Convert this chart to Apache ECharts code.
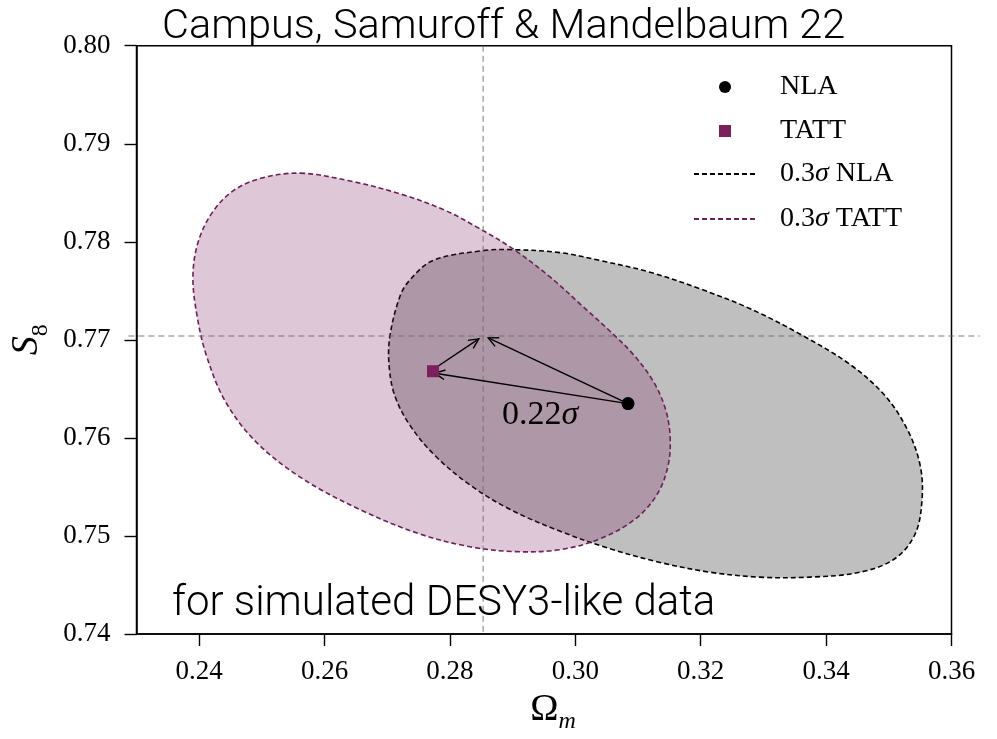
<!DOCTYPE html>
<html><head><meta charset="utf-8">
<script src="https://cdn.jsdelivr.net/npm/echarts@6/dist/echarts.min.js"></script>
<style>html,body{margin:0;padding:0;background:#fff}#c{width:997px;height:739px}</style>
</head><body><div id="c"></div>
<script>
// ---- data ----
const xTicks = [0.24, 0.26, 0.28, 0.30, 0.32, 0.34, 0.36];
const yTicks = [0.74, 0.75, 0.76, 0.77, 0.78, 0.79, 0.80];
const nlaPoint = [[0.3084, 0.7635]];
const tattPoint = [[0.2773, 0.7668]];
const truthOm = 0.2853;
const truthS8 = 0.7704;
const nlaContour = [
  [0.2853,0.7791],[0.2900,0.7792],[0.2975,0.7789],[0.3039,0.7781],[0.3119,0.7769],[0.3199,0.7752],
  [0.3278,0.7732],[0.3358,0.7706],[0.3438,0.7675],[0.3494,0.7643],[0.3530,0.7608],[0.3550,0.7572],
  [0.3553,0.7537],[0.3542,0.7502],[0.3510,0.7477],[0.3454,0.7463],[0.3374,0.7458],[0.3294,0.7458],
  [0.3215,0.7463],[0.3135,0.7473],[0.3055,0.7487],[0.2975,0.7505],[0.2896,0.7527],[0.2832,0.7552],
  [0.2776,0.7582],[0.2736,0.7613],[0.2712,0.7643],[0.2703,0.7673],[0.2704,0.7703],[0.2720,0.7744],
  [0.2736,0.7761],[0.2773,0.7781]
];
const tattContour = [
  [0.2561,0.7870],[0.2641,0.7862],[0.2720,0.7849],[0.2789,0.7833],[0.2843,0.7815],[0.2900,0.7793],
  [0.2960,0.7764],[0.3012,0.7734],[0.3060,0.7706],[0.3094,0.7684],[0.3124,0.7658],[0.3143,0.7631],
  [0.3151,0.7603],[0.3148,0.7572],[0.3130,0.7542],[0.3095,0.7517],[0.3039,0.7497],[0.2975,0.7486],
  [0.2904,0.7484],[0.2832,0.7489],[0.2752,0.7502],[0.2656,0.7527],[0.2561,0.7560],[0.2489,0.7597],
  [0.2441,0.7638],[0.2412,0.7683],[0.2397,0.7723],[0.2390,0.7764],[0.2398,0.7799],[0.2420,0.7829],
  [0.2454,0.7852],[0.2500,0.7865]
];
const arrowFrom = [[0.3084,0.7635],[0.2776,0.7671],[0.3084,0.7635]];
const arrowTo   = [[0.2776,0.7666],[0.2846,0.7701],[0.2861,0.7702]];
const refLineH = [0.2287, truthS8, 0.3645, truthS8];
const refLineV = [truthOm, 0.80, truthOm, 0.74];
const annotation = [[0.2944, 0.7623, '0.22σ']];

// ---- chart ----
const chart = echarts.init(document.getElementById('c'), null, {renderer: 'canvas'});
const serif = 'Liberation Serif';
const fmt2 = v => Number(v).toFixed(2);

function contourSeries(name, pts, fill, stroke) {
  return {
    name: name, type: 'custom', coordinateSystem: 'cartesian2d', data: [[pts[0][0], pts[0][1]]],
    silent: true, z: 2,
    renderItem: function (params, api) {
      const points = pts.map(p => api.coord(p));
      return {type: 'polygon', shape: {points: points, smooth: 0.35},
        style: {fill: fill, stroke: stroke, lineWidth: 1.6, lineDash: [5, 3]}};
    }
  };
}
const legendText = {fontFamily: serif, fontSize: 28, color: '#000',
  rich: {i: {fontFamily: serif, fontStyle: 'italic', fontSize: 28, color: '#000'}}};

const option = {
  backgroundColor: '#fff',
  animation: false,
  title: [
    {text: 'Campus, Samuroff & Mandelbaum 22', left: 157, top: 2,
     textStyle: {fontFamily: 'Roboto', fontWeight: 300, fontSize: 41.5, color: '#000'}},
    {text: 'for simulated DESY3-like data', left: 167, top: 578,
     textStyle: {fontFamily: 'Roboto', fontWeight: 300, fontSize: 42, color: '#000'}}
  ],
  grid: {left: 136.5, right: 45.5, top: 45.7, bottom: 98, show: true,
         borderColor: '#000', borderWidth: 1.5, backgroundColor: 'transparent'},
  legend: [
    {orient: 'vertical', left: 714, top: 68, itemWidth: 12, itemHeight: 12, itemGap: 16,
     data: ['NLA', 'TATT'],
     textStyle: Object.assign({}, legendText, {padding: [0, 0, 0, 44]})},
    {orient: 'vertical', left: 688, top: 155, itemWidth: 63, itemHeight: 12, itemGap: 17,
     data: ['0.3σ NLA', '0.3σ TATT'],
     itemStyle: {opacity: 0},
     formatter: n => n.replace('σ', '{i|σ}'),
     textStyle: Object.assign({}, legendText, {padding: [0, 0, 0, 18]})}
  ],
  xAxis: {
    type: 'value', min: 0.23, max: 0.36,
    name: '{a|Ω}{b|m}', nameLocation: 'middle', nameGap: 52,
    nameTextStyle: {rich: {
      a: {fontFamily: serif, fontSize: 38, color: '#000', padding: [0, 0, 0, 18]},
      b: {fontFamily: serif, fontStyle: 'italic', fontSize: 24, color: '#000', padding: [24, 0, 0, 0]}}},
    axisLine: {show: true, lineStyle: {color: '#000', width: 1.5}},
    axisTick: {show: true, inside: false, length: 12, customValues: xTicks, lineStyle: {color: '#000', width: 1.4}},
    axisLabel: {customValues: xTicks, formatter: fmt2, margin: 24, fontFamily: serif, fontSize: 27, color: '#000'},
    splitLine: {show: false}
  },
  yAxis: {
    type: 'value', min: 0.74, max: 0.80, interval: 0.01,
    name: '{s|S}{n|8}', nameLocation: 'middle', nameGap: 71, nameRotate: 90,
    nameTextStyle: {rich: {
      s: {fontFamily: serif, fontStyle: 'italic', fontSize: 38, color: '#000'},
      n: {fontFamily: serif, fontSize: 24, color: '#000', padding: [26, 0, 0, 0]}}},
    axisLine: {show: true, lineStyle: {color: '#000', width: 1.5}},
    axisTick: {show: true, inside: false, length: 12, customValues: yTicks, lineStyle: {color: '#000', width: 1.4}},
    axisLabel: {customValues: yTicks, formatter: fmt2, margin: 26, fontFamily: serif, fontSize: 27, color: '#000'},
    splitLine: {show: false}
  },
  series: [
    contourSeries('nlaFill', nlaContour, 'rgba(0,0,0,0.25)', '#000'),
    contourSeries('tattFill', tattContour, 'rgba(122,31,92,0.25)', '#6d2058'),
    {
      name: 'ref', type: 'custom', data: [refLineH, refLineV], clip: false, silent: true, z: 3,
      renderItem: function (params, api) {
        const p1 = api.coord([api.value(0), api.value(1)]);
        const p2 = api.coord([api.value(2), api.value(3)]);
        return {type: 'line', shape: {x1: p1[0], y1: p1[1], x2: p2[0], y2: p2[1]},
          style: {stroke: 'rgba(110,110,110,0.6)', lineWidth: 1.5, lineDash: [6, 4]}};
      }
    },
    {
      name: 'arrows', type: 'custom', silent: true, z: 5,
      data: arrowFrom.map((f, i) => [f[0], f[1], arrowTo[i][0], arrowTo[i][1]]),
      renderItem: function (params, api) {
        const p1 = api.coord([api.value(0), api.value(1)]);
        const p2 = api.coord([api.value(2), api.value(3)]);
        const ang = Math.atan2(p2[1] - p1[1], p2[0] - p1[0]);
        const L = 11, A = 0.45;
        const h1 = [p2[0] - L * Math.cos(ang - A), p2[1] - L * Math.sin(ang - A)];
        const h2 = [p2[0] - L * Math.cos(ang + A), p2[1] - L * Math.sin(ang + A)];
        return {type: 'group', children: [
          {type: 'line', shape: {x1: p1[0], y1: p1[1], x2: p2[0], y2: p2[1]}, style: {stroke: '#000', lineWidth: 1.4}},
          {type: 'polyline', shape: {points: [h1, p2, h2]}, style: {stroke: '#000', fill: null, lineWidth: 1.4}}
        ]};
      }
    },
    {
      name: 'annot', type: 'custom', silent: true, z: 6, data: annotation,
      renderItem: function (params, api) {
        const p = api.coord([api.value(0), api.value(1)]);
        const t = annotation[params.dataIndex][2];
        return {type: 'text', x: p[0], y: p[1], style: {
          text: t.replace('σ', '{i|σ}'), align: 'center', verticalAlign: 'middle',
          fontFamily: serif, fontSize: 34, fill: '#000',
          rich: {i: {fontFamily: serif, fontStyle: 'italic', fontSize: 34, fill: '#000'}}}};
      }
    },
    {name: 'NLA', type: 'scatter', data: nlaPoint, symbol: 'circle', symbolSize: 13, z: 7,
     itemStyle: {color: '#000', opacity: 1}},
    {name: 'TATT', type: 'scatter', data: tattPoint, symbol: 'rect', symbolSize: 12, z: 7,
     itemStyle: {color: '#7b1f5d', opacity: 1}},
    {name: '0.3σ NLA', type: 'line', data: [], symbol: 'none',
     lineStyle: {color: '#000', width: 1.5, type: [5, 3]}, itemStyle: {color: '#000'}},
    {name: '0.3σ TATT', type: 'line', data: [], symbol: 'none',
     lineStyle: {color: '#6d2058', width: 1.5, type: [5, 3]}, itemStyle: {color: '#6d2058'}}
  ]
};
chart.setOption(option);
</script>
</body></html>
